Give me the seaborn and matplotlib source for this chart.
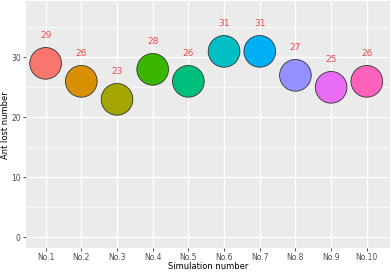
import matplotlib
matplotlib.use("Agg")
import matplotlib.pyplot as plt
import seaborn as sns
import pandas as pd
from matplotlib.ticker import MultipleLocator

categories = ["No.1", "No.2", "No.3", "No.4", "No.5", "No.6", "No.7", "No.8", "No.9", "No.10"]
values = [29, 26, 23, 28, 26, 31, 31, 27, 25, 26]
colors = ["#F8766D", "#D89000", "#A3A500", "#39B600", "#00BF7D",
          "#00BFC4", "#00B0F6", "#9590FF", "#E76BF3", "#FF62BC"]

df = pd.DataFrame({"sim": categories, "lost": values})

sns.set_theme(style="darkgrid", rc={"axes.facecolor": "#EBEBEB", "grid.color": "white"})
plt.rcParams['font.family'] = ['DejaVu Sans']

W, H = 391, 272
fig = plt.figure(figsize=(W / 100, H / 100), dpi=100)
ax = fig.add_axes([26/W, 1 - 248/H, 364/W, 247/H])

sns.scatterplot(data=df, x="sim", y="lost", hue="sim", palette=colors, s=520,
                edgecolor="#333333", linewidth=0.6, legend=False, ax=ax, zorder=3)

for i, v in enumerate(values):
    ax.text(i, v + 4.7, str(v), color="#F04A4A", fontsize=6.5, ha="center", va="center", zorder=4)

ax.set_xlim(-0.55, 9.65)
ax.set_ylim(-1.8, 39.4)
ax.yaxis.set_major_locator(MultipleLocator(10))
ax.yaxis.set_minor_locator(MultipleLocator(5))
ax.grid(which="major", color="white", linewidth=0.9)
ax.grid(which="minor", color="white", linewidth=0.45)
ax.set_axisbelow(True)
for sp in ax.spines.values():
    sp.set_visible(False)
ax.tick_params(axis="both", which="major", labelsize=5.5, labelcolor="#4D4D4D",
               length=2.5, width=0.6, color="#333333", pad=1.2, bottom=True, left=True)
ax.tick_params(axis="both", which="minor", length=0)
ax.set_xlabel("")
ax.set_ylabel("")
fig.text(0.5 * (26 + 390) / W, 1.0 / H, "Simulation number", fontsize=6, color="black",
         ha="center", va="bottom")
fig.text(1 / W, 1 - 125 / H, "Ant lost number", fontsize=6, color="black",
         ha="left", va="center", rotation=90)

fig.savefig("out.png", dpi=100, facecolor="white")
